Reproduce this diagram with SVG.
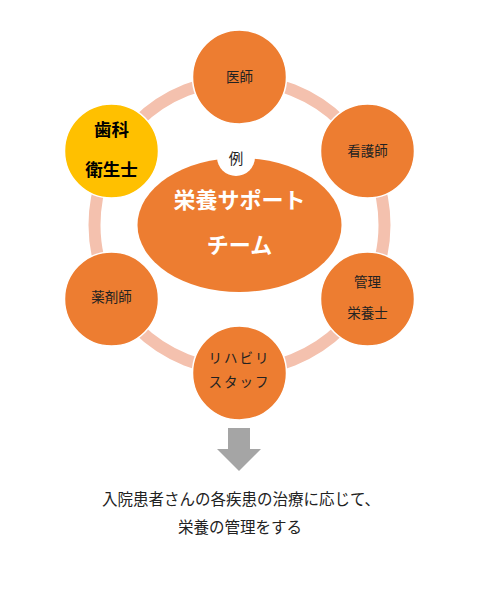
<svg xmlns="http://www.w3.org/2000/svg" width="477" height="589" viewBox="0 0 477 589">
<style>
.n{fill:#ED7D31;stroke:#fff;stroke-width:1.5}
.t{font-family:"Noto Sans CJK JP","Noto Sans",sans-serif;font-size:13.5px;fill:#222;text-anchor:middle}
.b{font-family:"Noto Sans CJK JP","Noto Sans",sans-serif;font-weight:bold;text-anchor:middle}
</style>
<rect width="477" height="589" fill="#fff"/>
<g id="connectors">
<circle cx="239.5" cy="225" r="145" fill="none" stroke="#F4C1AE" stroke-width="12"/>
<path d="M228,428 H250 V449 H261 L239,471 L217,449 H228 Z" fill="#A5A5A5"/>
</g>
<g id="center">
<ellipse cx="239.5" cy="225" rx="102" ry="67" fill="#ED7D31"/>
<circle cx="236" cy="157" r="19" fill="#fff"/>
<text x="236" y="164" class="t" style="font-size:14.5px">例</text>
<text x="239.5" y="208" class="b" style="font-size:22px;fill:#fff">栄養サポート</text>
<text x="239.5" y="253" class="b" style="font-size:22px;fill:#fff">チーム</text>
</g>
<g id="doctor">
<circle class="n" cx="239.5" cy="77" r="47"/>
<text x="239.5" y="82" class="t">医師</text>
</g>
<g id="nurse">
<circle class="n" cx="367.5" cy="151" r="47"/>
<text x="367.5" y="156" class="t">看護師</text>
</g>
<g id="dietitian">
<circle class="n" cx="367.5" cy="299" r="47"/>
<text x="367.5" y="287" class="t">管理</text>
<text x="367.5" y="318" class="t">栄養士</text>
</g>
<g id="rehab">
<circle class="n" cx="239.5" cy="373" r="47"/>
<text x="239.5" y="363" class="t" style="letter-spacing:2px">リハビリ</text>
<text x="239.5" y="387" class="t" style="letter-spacing:2px">スタッフ</text>
</g>
<g id="pharmacist">
<circle class="n" cx="111.5" cy="299" r="47"/>
<text x="111.5" y="302" class="t">薬剤師</text>
</g>
<g id="hygienist">
<circle cx="111.5" cy="151" r="47" fill="#FFC000" stroke="#fff" stroke-width="1.5"/>
<text x="111.5" y="136" class="b" style="font-size:17.5px;fill:#000">歯科</text>
<text x="111.5" y="176" class="b" style="font-size:17.5px;fill:#000">衛生士</text>
</g>
<g id="caption">
<text x="241" y="505" class="t" style="font-size:15.5px">入院患者さんの各疾患の治療に応じて、</text>
<text x="240" y="533" class="t" style="font-size:15.5px">栄養の管理をする</text>
</g>
</svg>
